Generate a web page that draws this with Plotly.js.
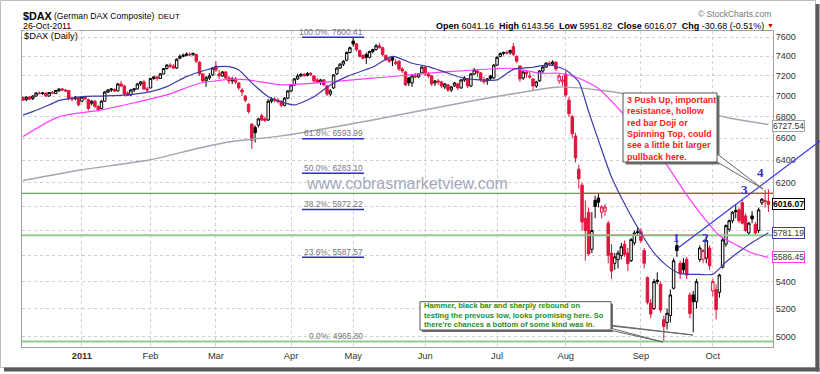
<!DOCTYPE html>
<html><head><meta charset="utf-8">
<script src="https://cdn.plot.ly/plotly-3.0.1.min.js"></script>
<style>html,body{margin:0;padding:0;background:#fff;}#chart{width:820px;height:374px;}</style>
</head><body><div id="chart"></div>
<script>
// ---------- DATA ----------
const tradingDays = {
 '2010-12':[6,7,8,9,10,13,14,15,16,17,20,21,22,23,27,28,29,30],
 '2011-01':[3,4,5,6,7,10,11,12,13,14,17,18,19,20,21,24,25,26,27,28,31],
 '2011-02':[1,2,3,4,7,8,9,10,11,14,15,16,17,18,21,22,23,24,25,28],
 '2011-03':[1,2,3,4,7,8,9,10,11,14,15,16,17,18,21,22,23,24,25,28,29,30,31],
 '2011-04':[1,4,5,6,7,8,11,12,13,14,15,18,19,20,21,26,27,28,29],
 '2011-05':[2,3,4,5,6,9,10,11,12,13,16,17,18,19,20,23,24,25,26,27,30,31],
 '2011-06':[1,2,3,6,7,8,9,10,13,14,15,16,17,20,21,22,23,24,27,28,29,30],
 '2011-07':[1,4,5,6,7,8,11,12,13,14,15,18,19,20,21,22,25,26,27,28,29],
 '2011-08':[1,2,3,4,5,8,9,10,11,12,15,16,17,18,19,22,23,24,25,26,29,30,31],
 '2011-09':[1,2,5,6,7,8,9,12,13,14,15,16,19,20,21,22,23,26,27,28,29,30],
 '2011-10':[3,4,5,6,7,10,11,12,13,14,17,18,19,20,21,24,25,26]
};
const open = [
 6985,6965,6990,6975,7000,7030,7025,7030,7000,7035,7025,7050,7070,7060,7055,6975,6975,6985,
 6950,6990,6965,6930,6950,6900,6880,6950,7040,7060,7065,7050,7120,7100,7030,7010,7060,7070,7120,7140,7070,
 7080,7175,7190,7175,7220,7275,7310,7300,7280,7380,7400,7410,7420,7415,7420,7340,7220,7150,7180,7210,
 7300,7220,7200,7240,7180,7150,7170,7130,7060,7000,6920,6730,6700,6720,6810,6780,6770,6950,6970,6960,6950,6910,6980,
 7050,7110,7170,7200,7215,7205,7225,7200,7160,7135,7160,7100,7020,7080,7220,7280,7320,7360,7440,
 7560,7530,7460,7410,7420,7390,7450,7470,7510,7490,7410,7370,7390,7340,7350,7270,7240,7180,7130,7200,7190,7230,
 7290,7220,7200,7130,7150,7140,7090,7110,7060,7100,7120,7080,7160,7170,7100,7220,7250,7230,7160,7150,7200,7180,
 7310,7400,7430,7440,7435,7500,7400,7300,7180,7240,7200,7170,7100,7150,7250,7290,7330,7320,7340,7150,7140,
 7220,6960,6800,6620,6320,6180,5900,5950,5650,6050,6070,5950,5960,5860,5620,5540,5570,5600,5690,5620,5560,5700,5790,
 5790,5640,5430,5240,5200,5410,5380,5120,5100,5150,5350,5680,5540,5540,5570,5300,5300,5250,5570,5570,5580,5660,
 5330,5340,5320,5510,5690,5810,5880,5965,5970,6030,5920,5780,5920,5850,5800,6030,6040,6041.16
];
const high = [
 6995,7000,7000,7010,7040,7045,7040,7035,7040,7050,7060,7075,7080,7070,7060,6990,7000,6990,
 7000,7000,6975,6960,6960,6910,6960,7050,7070,7080,7075,7130,7150,7110,7045,7070,7080,7130,7150,7160,7090,
 7180,7200,7195,7230,7280,7320,7330,7320,7380,7420,7430,7440,7440,7440,7425,7350,7230,7200,7230,7290,
 7350,7260,7250,7250,7200,7190,7190,7140,7080,7010,6930,6740,6720,6790,6830,6800,6970,6990,6990,6980,6960,6990,7060,
 7120,7180,7220,7230,7230,7240,7240,7210,7180,7170,7170,7110,7070,7220,7290,7330,7360,7450,7500,
 7600,7540,7470,7420,7440,7460,7480,7530,7540,7500,7420,7390,7395,7370,7360,7290,7250,7190,7220,7230,7230,7300,
 7300,7240,7210,7160,7170,7150,7130,7120,7100,7140,7130,7170,7200,7180,7230,7280,7270,7240,7190,7180,7210,7320,
 7400,7440,7450,7460,7470,7540,7410,7310,7250,7260,7240,7180,7150,7260,7300,7340,7350,7360,7350,7230,7200,
 7250,6990,6820,6650,6360,6200,6050,5990,5950,6090,6110,6010,6020,5880,5690,5620,5640,5700,5720,5660,5740,5800,5830,
 5820,5660,5440,5270,5420,5470,5400,5150,5200,5340,5580,5720,5560,5580,5590,5320,5330,5420,5680,5650,5760,5680,
 5420,5380,5460,5740,5850,5890,5960,6013,5990,6060,5940,5870,5960,5870,5990,6070,6140,6143.56
];
const low = [
 6955,6950,6960,6960,6995,7015,7010,6990,6995,7020,7020,7045,7055,7045,6960,6950,6960,6900,
 6940,6960,6860,6910,6880,6850,6875,6945,7030,7040,7040,7045,7090,7000,7000,7005,7040,7065,7100,7060,7040,
 7075,7160,7150,7170,7215,7265,7280,7270,7270,7370,7390,7400,7400,7410,7330,7200,7130,7090,7160,7200,
 7240,7170,7190,7170,7120,7120,7120,7060,7000,6940,6830,6500,6560,6700,6760,6750,6760,6930,6940,6930,6890,6900,6970,
 7040,7100,7160,7190,7190,7195,7200,7130,7130,7110,7100,7000,7000,7070,7210,7270,7300,7350,7430,
 7500,7450,7390,7370,7320,7380,7430,7460,7480,7400,7350,7330,7300,7310,7250,7230,7100,7100,7090,7180,7180,7220,
 7200,7180,7100,7100,7110,7080,7070,7040,7040,7090,7060,7070,7140,7080,7090,7210,7190,7140,7120,7110,7150,7170,
 7300,7390,7410,7420,7420,7400,7330,7140,7160,7180,7170,7060,7080,7140,7220,7280,7300,7310,7250,7120,7100,
 6990,6800,6600,6380,6150,5800,5560,5600,5620,5900,5990,5900,5920,5540,5420,5490,5500,5570,5590,5480,5550,5680,5760,
 5700,5500,5230,5130,5190,5380,5170,4965.8,5050,5100,5340,5590,5420,5460,5420,5130,5030,5200,5550,5540,5540,5490,
 5290,5121,5280,5500,5670,5790,5860,5900,5860,5850,5790,5760,5860,5760,5780,6010,5990,5951.82
];
const close = [
 6960,6990,6970,7000,7030,7025,7030,7000,7035,7030,7055,7070,7060,7050,6975,6970,6990,6915,
 6990,6975,6880,6950,6900,6870,6950,7040,7060,7070,7050,7120,7100,7020,7005,7060,7070,7120,7140,7070,7060,
 7175,7190,7175,7220,7275,7310,7300,7280,7370,7400,7410,7425,7415,7430,7350,7220,7150,7180,7200,7280,
 7260,7200,7240,7180,7150,7170,7140,7080,7040,6960,6850,6580,6650,6780,6770,6765,6950,6970,6960,6945,6910,6980,7050,
 7110,7170,7200,7215,7205,7225,7215,7150,7135,7160,7110,7020,7050,7210,7280,7320,7350,7440,7490,
 7530,7470,7400,7380,7390,7450,7470,7510,7490,7420,7370,7350,7360,7330,7270,7250,7110,7130,7200,7190,7220,7290,
 7220,7200,7120,7150,7140,7100,7120,7060,7090,7130,7080,7160,7180,7100,7220,7260,7230,7160,7140,7170,7175,7310,
 7390,7430,7440,7435,7460,7420,7350,7170,7240,7220,7190,7100,7140,7250,7290,7330,7320,7340,7270,7200,7160,
 7010,6830,6640,6420,6236,5870,5800,5613,5800,5998,6034,5995,5994,5602,5480,5590,5620,5670,5610,5537,5727,5780,5784,
 5720,5540,5246,5160,5400,5400,5190,5072,5166,5300,5560,5640,5460,5490,5450,5164,5250,5400,5660,5640,5720,5520,
 5400,5193,5450,5725,5840,5880,5950,5955,5880,5860,5800,5860,5895,5780,5970,6060,6046.75,6016.07
];
// moving averages (trading-day index, value)
const ma20Idx = [0,3,8,11,18,24,32,39,44,50,56,60,63,66,70,75,79,83,89,94,99,107,113,119,124,130,135,140,145,150,156,161,166,170,173,177,180,185,189,193,197,201,207,211,215,219,223,228];
const ma20Val = [6818,6849,6914,6955,6994,7000,7011,7043,7093,7193,7260,7294,7294,7260,7130,6994,6945,6914,6994,7110,7193,7290,7400,7329,7294,7227,7177,7160,7160,7267,7288,7311,7260,7140,6850,6493,6250,5969,5780,5621,5520,5461,5455,5455,5550,5630,5703,5781.19];
const ma50Idx = [0,11,24,44,54,64,69,79,107,130,150,158,164,170,176,183,190,196,203,209,213,219,223,228];
const ma50Val = [6614,6801,6866,7011,7127,7167,7160,7110,7177,7243,7277,7227,7227,7177,7075,6848,6584,6393,6097,5880,5760,5673,5620,5586.45];
const ma200Idx = [0,18,39,54,64,79,107,136,164,176,183,200,216,228];
const ma200Val = [6220,6314,6403,6510,6569,6621,6770,6945,7090,7060,7028,6905,6789,6727.54];
// Fibonacci retracement levels
const fibPct = ['100.0%','61.8%','50.0%','38.2%','23.6%','0.0%'];
const fibVal = [7600.41,6593.99,6283.10,5972.22,5587.57,4965.80];
// horizontal support / resistance levels
const resistLevel = 6110, supportLevel = 5762;
const yTicks = [5000,5200,5400,5600,5800,6000,6200,6400,6600,6800,7000,7200,7400,7600];
const yHidden = [5600,5800,6000]; // labels covered by the value tags
const monthKeys = ['2011-01','2011-02','2011-03','2011-04','2011-05','2011-06','2011-07','2011-08','2011-09','2011-10'];
const monthNames = ['<b>2011</b>','Feb','Mar','Apr','May','Jun','Jul','Aug','Sep','Oct'];
const noteRed = ['3 Push Up, important','resistance, hollow','red bar Doji or','Spinning Top, could','see a little bit larger','pullback here.'];
const noteGreen = ['Hammer, black bar and sharply rebound on','testing the prevous low, looks promising here. So',"there're chances a bottom of some kind was in."];

// ---------- BUILD ----------
const dates = [];
Object.keys(tradingDays).forEach(m => tradingDays[m].forEach(d => dates.push(m + '-' + String(d).padStart(2,'0'))));
const N = dates.length;
const tickIdx = monthKeys.map(k => dates.findIndex(d => d.startsWith(k)));
const isRed = close.map((c,i) => i === 0 ? c < open[i] : c < close[i-1]);
const RED = '#e0143c', BLK = '#000000';
function candles(flag, col) {
  const x=[],o=[],h=[],l=[],c=[];
  for (let i=0;i<N;i++) if (isRed[i]===flag) { x.push(i); o.push(open[i]); h.push(high[i]); l.push(low[i]); c.push(close[i]); }
  return {type:'candlestick', x, open:o, high:h, low:l, close:c, whiskerwidth:0, hoverinfo:'none', showlegend:false,
    increasing:{line:{color:col,width:1}, fillcolor:'#ffffff'},
    decreasing:{line:{color:col,width:1}, fillcolor:col}};
}
const X0 = -0.3, X1 = 229.4;
const L=22, R=773, T=31, B=347;
const fx = x => (x-L)/(R-L), fy = y => (B-y)/(B-T);
const pxToIdx = px => X0 + (px-L)/(R-L)*(X1-X0);
const line = (x, y, color, width) => ({type:'scatter', mode:'lines', x, y, hoverinfo:'skip', showlegend:false, line:{color, width, shape:'linear'}});
const spl = (x, y, color, width) => ({type:'scatter', mode:'lines', x, y, hoverinfo:'skip', showlegend:false, line:{color, width, shape:'spline', smoothing:0.6}});

const traces = [
  line([X0,X1],[resistLevel,resistLevel],'#3a8f3a',1),
  line([X0,X1],[supportLevel,supportLevel],'#8fcd8f',2),
  line([X0,X1],[fibVal[5],fibVal[5]],'#8fcd8f',2),
  line([pxToIdx(583),X1],[resistLevel,resistLevel],'#e82828',1),
  line([pxToIdx(583),pxToIdx(708)],[supportLevel,supportLevel],'#f07070',1),
  spl(ma200Idx, ma200Val, '#9ea7b0', 1.4),
  spl(ma50Idx, ma50Val, '#ff3cff', 1.2),
  spl(ma20Idx, ma20Val, '#3c3ca8', 1.2),
];
fibVal.slice(0,5).forEach(v => traces.push(line([pxToIdx(302),pxToIdx(364)],[v,v],'#2c2cd0',1.5)));
traces.push(candles(false, BLK), candles(true, RED));

const FONT = "'Liberation Sans', Arial, Helvetica, sans-serif";
const ann = [];
const A = o => ann.push(Object.assign({xref:'paper', yref:'paper', showarrow:false, xanchor:'left', yanchor:'middle', font:{family:FONT, size:9, color:'#000'}}, o));
const n = N-1, chg = close[n]-close[n-1], pct = chg/close[n-1]*100;
const mon = ['Jan','Feb','Mar','Apr','May','Jun','Jul','Aug','Sep','Oct','Nov','Dec'];
const lastD = dates[n].split('-');
A({x:fx(21), y:fy(16), text:'<b>$DAX</b>', font:{family:FONT, size:10.8, color:'#000'}});
A({x:fx(51.5), y:fy(16.5), text:'(German DAX Composite)', font:{family:FONT, size:8.6, color:'#000'}});
A({x:fx(155.5), y:fy(16.5), text:'DEUT', font:{family:FONT, size:8, color:'#000'}});
A({x:fx(20.5), y:fy(26.5), text:lastD[2]+'-'+mon[+lastD[1]-1]+'-'+lastD[0], font:{family:FONT, size:8.8, color:'#000'}});
A({x:fx(773), y:fy(14.5), xanchor:'right', text:'\u00a9 StockCharts.com', font:{family:FONT, size:8.5, color:'#777'}});
A({x:fx(766), y:fy(26.5), xanchor:'right',
   text:'<b>Open</b> '+open[n].toFixed(2)+'&nbsp; <b>High</b> '+high[n].toFixed(2)+'&nbsp; <b>Low</b> '+low[n].toFixed(2)+'&nbsp; <b>Close</b> '+close[n].toFixed(2)+'&nbsp; <b>Chg</b> '+chg.toFixed(2)+' ('+pct.toFixed(2)+'%)',
   font:{family:FONT, size:9, color:'#000'}});
A({x:fx(770), y:fy(26), xanchor:'center', text:'\u25bc', font:{family:FONT, size:7, color:'#cc0000'}});
A({x:fx(23), y:fy(36.5), text:'$DAX (Daily)', bgcolor:'#ffffff', borderpad:0, font:{family:FONT, size:9.3, color:'#000'}});
// fib labels
fibVal.forEach((v,i) => ann.push({xref:'paper', yref:'y', x:fx(364), y:Math.log10(v), xanchor:'right', yanchor:'bottom', yshift:-0.5, showarrow:false, borderpad:0,
  text: fibPct[i]+': '+v.toFixed(2), font:{family:FONT, size:8.4, color:'#777'}}));
// watermark
A({x:fx(304), y:fy(183), text:'www.cobrasmarketview.com', font:{family:FONT, size:16, color:'#a4aaba'}});
// value tags on the right
const tag = (v, border, bold, ys) => ann.push({xref:'paper', yref:'y', x:fx(772), y:Math.log10(v), xanchor:'left', yanchor:'middle', showarrow:false, yshift: ys || 0,
  text: bold ? '<b>'+v.toFixed(2)+'</b>' : v.toFixed(2), bgcolor:'#ffffff', bordercolor:border, borderwidth:1, borderpad:0,
  font:{family:FONT, size:8.6, color: bold ? '#000' : '#333'}});
tag(ma200Val[ma200Val.length-1], '#9ea7b0', false, -1.5);
tag(close[n], '#000000', true);
tag(ma20Val[ma20Val.length-1], '#3c3ca8', false);
tag(ma50Val[ma50Val.length-1], '#ff3cff', false);
// notes
noteRed.forEach((t,i) => A({x:fx(624.5), y:fy(100 + i*11.3), text:'<b>'+t+'</b>', font:{family:FONT, size:8.9, color:'#ff1a1a'}}));
noteGreen.forEach((t,i) => A({x:fx(421.5), y:fy(305.7 + i*9.3), text:'<b>'+t+'</b>', font:{family:FONT, size:7.6, color:'#1e8f1e'}}));
// wave numbers
[['1',676.7,237.3],['2',705,237.3],['3',744.3,189.3],['4',760.5,172.7]].forEach(([t,x,y]) =>
  A({x:fx(x), y:fy(y), xanchor:'center', text:'<b>'+t+'</b>', font:{family:"'Liberation Serif','DejaVu Serif',serif", size:13, color:'#2f2fd8'}}));

const P = pts => 'M' + pts.map(([x,y]) => fx(x).toFixed(5)+','+fy(y).toFixed(5)).join('L') + 'Z';
const rect = (x0,y0,x1,y1,fill,lc,lw) => ({type:'rect', xref:'paper', yref:'paper', x0:fx(x0), x1:fx(x1), y0:fy(y0), y1:fy(y1), fillcolor:fill, line:{color:lc||fill, width:lw===undefined?0:lw}});
const shapes = [
  rect(0.5,0.5,815.5,367.5,'rgba(0,0,0,0)','#bdbdbd',1),
  rect(815.5,4,819.5,371.5,'#5a5a5a'),
  rect(4,367.5,819.5,371.5,'#5a5a5a'),
  {type:'line', xref:'paper', yref:'paper', x0:fx(678), y0:fy(248), x1:fx(820), y1:fy(141), line:{color:'#3c3ce6', width:1.3}},
  rect(625.5,95.5,719.5,164.5,'#6e6e6e'),
  {type:'path', xref:'paper', yref:'paper', path:P([[712,150],[763,189],[712,159]]), fillcolor:'#ffffff', line:{color:'#666', width:1}},
  rect(623,93,717,162,'#ffffff','#555',1),
  rect(422,303.7,613,332,'#6e6e6e'),
  {type:'path', xref:'paper', yref:'paper', path:P([[596,327],[663,342],[606,327]]), fillcolor:'#ffffff', line:{color:'#666', width:1}},
  {type:'path', xref:'paper', yref:'paper', path:P([[602,325],[693,335],[609,325]]), fillcolor:'#ffffff', line:{color:'#666', width:1}},
  rect(420,301.7,611,330,'#ffffff','#555',1),
];

const layout = {
  width:820, height:374, margin:{l:L, r:820-R, t:T, b:374-B, pad:0},
  paper_bgcolor:'#ffffff', plot_bgcolor:'#ffffff', showlegend:false,
  font:{family:FONT, size:9, color:'#333'},
  boxgap:0.25, boxgroupgap:0, boxmode:'overlay',
  xaxis:{type:'linear', range:[X0,X1], tickmode:'array', tickvals:tickIdx, ticktext:monthNames,
    showgrid:true, gridcolor:'#cfcfcf', griddash:'dot', gridwidth:1, zeroline:false,
    showline:true, mirror:true, linecolor:'#a0a0a0', linewidth:1, ticks:'', tickfont:{family:FONT, size:9.3, color:'#333'},
    rangeslider:{visible:false}, fixedrange:true},
  yaxis:{type:'log', side:'right', range:[Math.log10(4928), Math.log10(7667)], tickmode:'array', tickvals:yTicks,
    ticktext:yTicks.map(v => yHidden.includes(v) ? '' : String(v)),
    showgrid:true, gridcolor:'#cfcfcf', griddash:'dot', gridwidth:1, zeroline:false,
    showline:true, mirror:true, linecolor:'#a0a0a0', linewidth:1, ticks:'', tickfont:{family:FONT, size:9, color:'#333'}, fixedrange:true},
  annotations: ann, shapes
};
Plotly.newPlot('chart', traces, layout, {staticPlot:true, displayModeBar:false});
</script></body></html>
